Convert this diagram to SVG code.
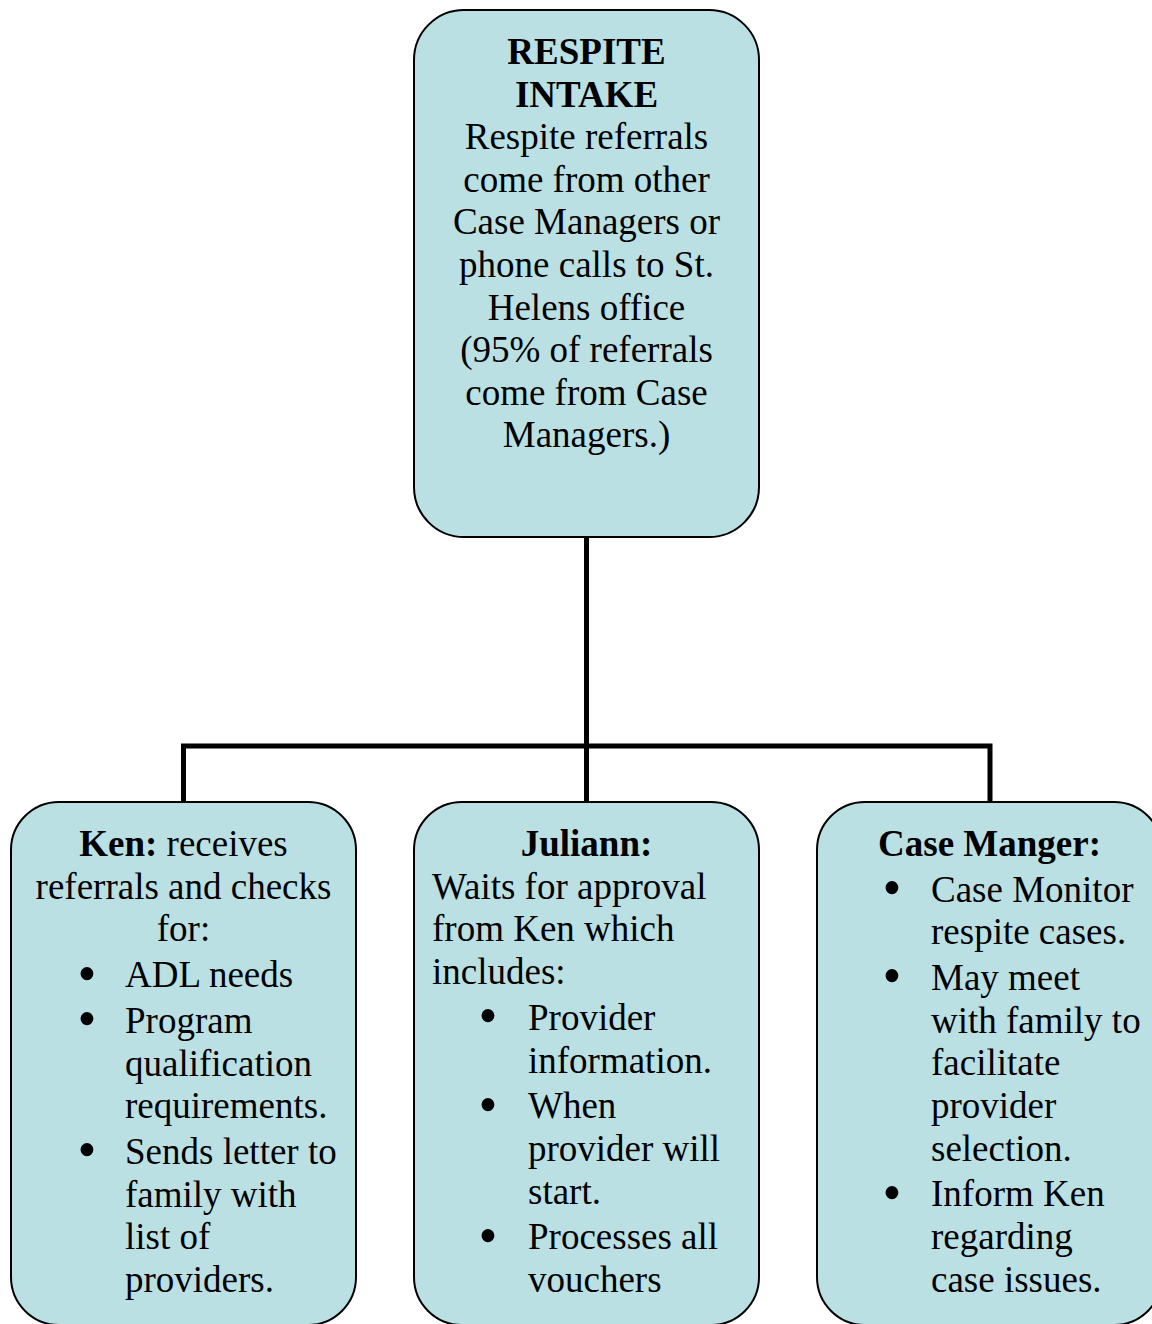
<svg xmlns="http://www.w3.org/2000/svg" width="1152" height="1324" viewBox="0 0 1152 1324">
<style>
.box{fill:#BBE0E3;stroke:#000;stroke-width:2}
.conn{fill:none;stroke:#000;stroke-width:5;stroke-linejoin:miter;stroke-linecap:butt}
text{font-family:"Liberation Serif","Times New Roman",serif;font-size:37px;fill:#000}
.c{text-anchor:middle}
.b{font-weight:bold}
.bul{font-size:54px;text-anchor:middle}
</style>
<rect width="1152" height="1324" fill="#fff"/>
<g id="connectors">
<path class="conn" d="M586.5,537 V746"/>
<path class="conn" d="M183.5,802 V746 H990 V802"/>
<path class="conn" d="M586.5,746 V802"/>
</g>
<g id="respite-intake">
<rect class="box" x="414" y="10" width="345" height="527" rx="50" ry="50"/>
<text class="c b" x="586.5" y="64">RESPITE</text>
<text class="c b" x="586.5" y="106.6">INTAKE</text>
<text class="c" x="586.5" y="149.2">Respite referrals</text>
<text class="c" x="586.5" y="191.8">come from other</text>
<text class="c" x="586.5" y="234.4">Case Managers or</text>
<text class="c" x="586.5" y="277">phone calls to St.</text>
<text class="c" x="586.5" y="319.6">Helens office</text>
<text class="c" x="586.5" y="362.2">(95% of referrals</text>
<text class="c" x="586.5" y="404.8">come from Case</text>
<text class="c" x="586.5" y="447.4">Managers.)</text>
</g>
<g id="ken">
<rect class="box" x="11" y="802" width="345" height="523" rx="48" ry="48"/>
<text class="c" x="183.5" y="856"><tspan class="b">Ken:</tspan> receives</text>
<text class="c" x="183.5" y="898.7">referrals and checks</text>
<text class="c" x="183.5" y="941.4">for:</text>
<text class="bul" x="87" y="991.6">•</text>
<text x="125" y="987.1">ADL needs</text>
<text class="bul" x="87" y="1037.3">•</text>
<text x="125" y="1032.8">Program</text>
<text x="125" y="1075.5">qualification</text>
<text x="125" y="1118.2">requirements.</text>
<text class="bul" x="87" y="1168.4">•</text>
<text x="125" y="1163.9">Sends letter to</text>
<text x="125" y="1206.6">family with</text>
<text x="125" y="1249.3">list of</text>
<text x="125" y="1292">providers.</text>
</g>
<g id="juliann">
<rect class="box" x="414" y="802" width="345" height="523" rx="48" ry="48"/>
<text class="c b" x="586.5" y="856">Juliann:</text>
<text x="432" y="898.7">Waits for approval</text>
<text x="432" y="941.4">from Ken which</text>
<text x="432" y="984.1">includes:</text>
<text class="bul" x="488" y="1034.3">•</text>
<text x="528" y="1029.8">Provider</text>
<text x="528" y="1072.5">information.</text>
<text class="bul" x="488" y="1122.7">•</text>
<text x="528" y="1118.2">When</text>
<text x="528" y="1160.9">provider will</text>
<text x="528" y="1203.6">start.</text>
<text class="bul" x="488" y="1253.8">•</text>
<text x="528" y="1249.3">Processes all</text>
<text x="528" y="1292">vouchers</text>
</g>
<g id="case-manger">
<rect class="box" x="817" y="802" width="345" height="523" rx="48" ry="48"/>
<text class="c b" x="989.5" y="856">Case Manger:</text>
<text class="bul" x="892" y="906">•</text>
<text x="931" y="901.5">Case Monitor</text>
<text x="931" y="944.2">respite cases.</text>
<text class="bul" x="892" y="994.4">•</text>
<text x="931" y="989.9">May meet</text>
<text x="931" y="1032.6">with family to</text>
<text x="931" y="1075.3">facilitate</text>
<text x="931" y="1118">provider</text>
<text x="931" y="1160.7">selection.</text>
<text class="bul" x="892" y="1210.9">•</text>
<text x="931" y="1206.4">Inform Ken</text>
<text x="931" y="1249.1">regarding</text>
<text x="931" y="1291.8">case issues.</text>
</g>
</svg>
